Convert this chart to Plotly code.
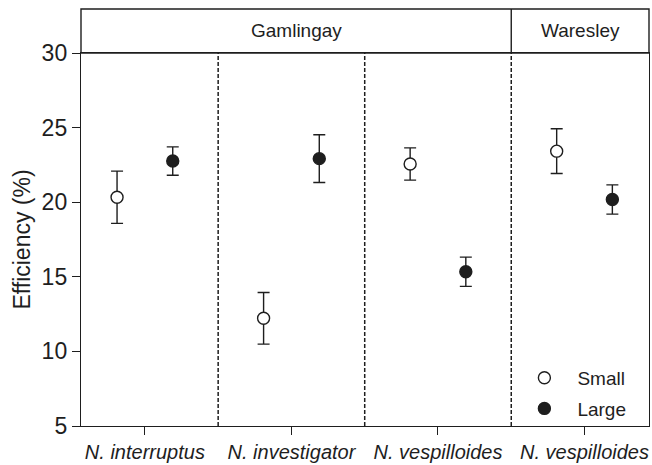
import plotly.graph_objects as go

species = ["N. interruptus", "N. investigator", "N. vespilloides", "N. vespilloides"]
sites = ["Gamlingay", "Waresley"]
small_mean = [20.33, 12.22, 22.56, 23.42]
small_err = [1.75, 1.73, 1.08, 1.50]
large_mean = [22.76, 22.92, 15.34, 20.18]
large_err = [0.95, 1.60, 0.98, 0.98]
yticks = [5, 10, 15, 20, 25, 30]

FONT = "Liberation Sans, Arial, sans-serif"
INK = "#1e1e1e"
OFF = 0.19
idx = list(range(len(species)))

fig = go.Figure()
fig.add_trace(go.Scatter(
    x=[i - OFF for i in idx], y=small_mean, mode="markers", name="Small",
    legendgroup="s",
    marker=dict(symbol="circle", size=12, color="white", line=dict(color=INK, width=1.4)),
    error_y=dict(type="data", array=small_err, visible=True, color=INK, thickness=1.4, width=6),
))
fig.add_trace(go.Scatter(
    x=[i + OFF for i in idx], y=large_mean, mode="markers", name="Large",
    legendgroup="l",
    marker=dict(symbol="circle", size=12, color=INK, line=dict(color=INK, width=1.4)),
    error_y=dict(type="data", array=large_err, visible=True, color=INK, thickness=1.4, width=6),
))

top = 1 + 45 / 381
shapes = []
for b in [0.5, 1.5, 2.5]:
    shapes.append(dict(type="line", xref="x", yref="paper", x0=b, x1=b, y0=0, y1=1,
                       line=dict(color=INK, width=1.5, dash="4px,2px")))
shapes.append(dict(type="line", xref="x", yref="paper", x0=2.5, x1=2.5, y0=1, y1=top,
                   line=dict(color=INK, width=1.4)))
shapes.append(dict(type="rect", xref="paper", yref="paper", x0=0, x1=1, y0=1, y1=top,
                   line=dict(color=INK, width=1.4)))

xr = [-0.436, 3.44]
annotations = [
    dict(text=sites[0], xref="x", yref="paper", x=(xr[0] + 2.5) / 2, y=(1 + top) / 2,
         showarrow=False, font=dict(family=FONT, size=19, color=INK), xanchor="center", yanchor="middle"),
    dict(text=sites[1], xref="x", yref="paper", x=(2.5 + xr[1]) / 2, y=(1 + top) / 2,
         showarrow=False, font=dict(family=FONT, size=19, color=INK), xanchor="center", yanchor="middle"),
]

fig.update_layout(
    width=652, height=465,
    margin=dict(l=81, r=2, t=53, b=31),
    paper_bgcolor="white", plot_bgcolor="white",
    font=dict(family=FONT, color=INK),
    shapes=shapes, annotations=annotations,
    showlegend=True,
    legend=dict(x=0.969, y=-0.005, xanchor="right", yanchor="bottom",
                font=dict(family=FONT, size=19, color=INK), bgcolor="rgba(0,0,0,0)",
                tracegroupgap=3, traceorder="grouped", itemwidth=56),
    xaxis=dict(range=xr, tickvals=idx, ticktext=[f"<i>{s}</i>" for s in species],
               showgrid=False, zeroline=False, showline=True, linecolor=INK, linewidth=1.4,
               mirror=True, ticks="outside", ticklen=8, tickwidth=1.4, tickcolor=INK,
               tickfont=dict(family=FONT, size=20, color=INK)),
    yaxis=dict(range=[5, 30], tickvals=yticks, showgrid=False, zeroline=False,
               showline=True, linecolor=INK, linewidth=1.4, mirror=True,
               ticks="outside", ticklen=8, tickwidth=1.4, tickcolor=INK,
               tickfont=dict(family=FONT, size=23, color=INK),
               title=dict(text="Efficiency (%)", font=dict(family=FONT, size=23, color=INK), standoff=4)),
)

fig.write_html("out.html")
